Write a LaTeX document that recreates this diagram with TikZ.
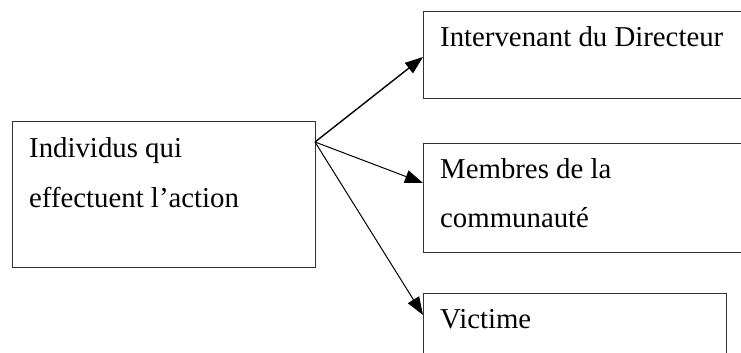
\documentclass[tikz,border=0pt]{standalone}
\usepackage{fontspec}
\setmainfont{Liberation Serif}
\usetikzlibrary{arrows.meta}
\begin{document}
\begin{tikzpicture}[x=1pt,y=-1pt,
  box/.style={draw=black!80,line width=1pt,minimum width=#1,anchor=north west,inner sep=0pt,outer sep=0pt},
  txt/.style={anchor=base west,inner sep=0pt,font=\fontsize{28.8}{50}\selectfont},
  conn/.style={-{Triangle[length=18pt,width=13pt]},line width=1pt,black}]
\clip (0,0) rectangle (741,353);
\fill[white] (0,0) rectangle (741,353);
% boxes
\node[box=303pt,minimum height=146pt] (src) at (12,121) {};
\node[box=340pt,minimum height=86pt] (t1) at (423,12) {};
\node[box=340pt,minimum height=109pt] (t2) at (423,143) {};
\node[box=303pt,minimum height=100pt] (t3) at (423,293) {};
% texts
\node[txt] (s1) at (29,157) {Individus qui};
\node[txt] (s2) at (29,207) {effectuent l’action};
\node[txt] (a1) at (440,47) {Intervenant du Directeur};
\node[txt] (b1) at (440,178) {Membres de la};
\node[txt] (b2) at (440,227) {communauté};
\node[txt] (c1) at (440,328) {Victime};
% connectors
\coordinate (hub) at ([yshift=-21pt]src.north east);
\coordinate (e1) at ([yshift=-45pt]t1.north west);
\coordinate (e2) at ([yshift=-40pt]t2.north west);
\coordinate (e3) at ([yshift=-22pt]t3.north west);
\draw[conn,line width=1.4pt] (hub) -- (e1);
\draw[conn] (hub) -- (e2);
\draw[conn] (hub) -- (e3);
\end{tikzpicture}
\end{document}
